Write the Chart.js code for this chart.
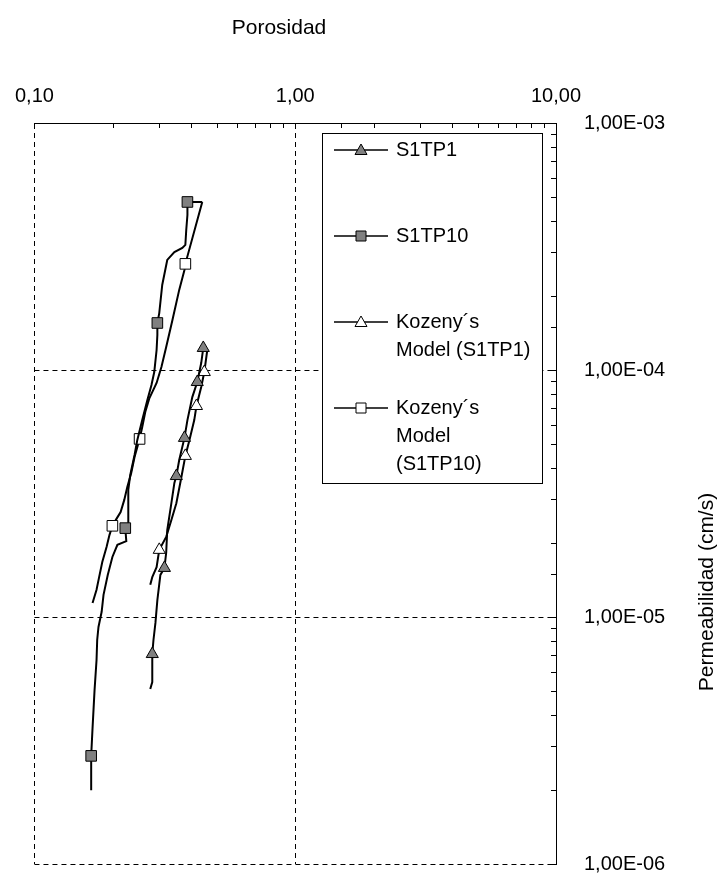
<!DOCTYPE html>
<html>
<head>
<meta charset="utf-8">
<title>Porosidad vs Permeabilidad</title>
<script src="https://cdn.jsdelivr.net/npm/chart.js@4.4.1/dist/chart.umd.min.js"></script>
<style>
  html, body { margin: 0; padding: 0; background: #fff; }
  canvas { display: block; }
</style>
</head>
<body>
<canvas id="chart-porosidad" width="719" height="879"></canvas>
<script>
// Datos (porosidad, permeabilidad cm/s)
const porS1TP1 = [0.278, 0.283, 0.283, 0.286, 0.291, 0.296, 0.304, 0.315, 0.320, 0.323, 0.335, 0.344, 0.350, 0.359, 0.376, 0.386, 0.403, 0.421, 0.436, 0.444];
const permS1TP1 = [5.11e-6, 5.45e-6, 7.08e-6, 8.07e-6, 9.46e-6, 1.17e-5, 1.48e-5, 1.58e-5, 1.82e-5, 2.25e-5, 2.89e-5, 3.49e-5, 3.72e-5, 4.32e-5, 5.31e-5, 6.27e-5, 7.77e-5, 8.94e-5, 1.067e-4, 1.228e-4];
const marksS1TP1 = [2, 7, 12, 14, 17, 19];

const porS1TP10 = [0.165, 0.165, 0.167, 0.170, 0.173, 0.174, 0.176, 0.181, 0.184, 0.191, 0.199, 0.208, 0.225, 0.223, 0.229, 0.229, 0.233, 0.242, 0.248, 0.259, 0.271, 0.281, 0.288, 0.294, 0.296, 0.296, 0.301, 0.309, 0.323, 0.344, 0.369, 0.379, 0.382, 0.386, 0.386, 0.440];
const permS1TP10 = [1.99e-6, 2.74e-6, 3.55e-6, 5.06e-6, 6.70e-6, 8.07e-6, 9.11e-6, 1.05e-5, 1.23e-5, 1.48e-5, 1.75e-5, 1.96e-5, 2.03e-5, 2.29e-5, 2.36e-5, 3.27e-5, 3.76e-5, 4.53e-5, 5.21e-5, 6.27e-5, 7.56e-5, 8.70e-5, 9.81e-5, 1.205e-4, 1.386e-4, 1.55e-4, 1.70e-4, 2.21e-4, 2.79e-4, 3.00e-4, 3.12e-4, 3.21e-4, 3.69e-4, 4.24e-4, 4.79e-4, 4.79e-4];
const marksS1TP10 = [1, 13, 25, 34];

const porKozS1TP1 = [0.460, 0.448, 0.436, 0.418, 0.410, 0.393, 0.379, 0.366, 0.350, 0.335, 0.320, 0.301, 0.294, 0.283, 0.278];
const permKozS1TP1 = [1.205e-4, 9.81e-5, 8.53e-5, 7.15e-5, 6.27e-5, 5.21e-5, 4.49e-5, 3.69e-5, 2.89e-5, 2.47e-5, 2.11e-5, 1.87e-5, 1.59e-5, 1.45e-5, 1.35e-5];
const marksKozS1TP1 = [1, 3, 6, 11];

const porKozS1TP10 = [0.440, 0.379, 0.376, 0.359, 0.338, 0.320, 0.307, 0.294, 0.276, 0.266, 0.259, 0.253, 0.242, 0.235, 0.227, 0.221, 0.214, 0.206, 0.199, 0.194, 0.189, 0.182, 0.177, 0.173, 0.167];
const permKozS1TP10 = [4.79e-4, 2.69e-4, 2.54e-4, 2.11e-4, 1.59e-4, 1.24e-4, 1.03e-4, 8.86e-5, 7.70e-5, 6.76e-5, 5.88e-5, 5.26e-5, 4.44e-5, 3.83e-5, 3.36e-5, 2.98e-5, 2.66e-5, 2.49e-5, 2.34e-5, 2.15e-5, 1.92e-5, 1.67e-5, 1.45e-5, 1.29e-5, 1.14e-5];
const marksKozS1TP10 = [1, 11, 18];

const legendLines = [['S1TP1'], ['S1TP10'], ['Kozeny´s', 'Model (S1TP1)'], ['Kozeny´s', 'Model', '(S1TP10)']];
const xTicks = [0.1, 1, 10];
const yTicks = [1e-6, 1e-5, 1e-4, 1e-3];
const xTitle = 'Porosidad';
const yTitle = 'Permeabilidad (cm/s)';

const FONT = '"Liberation Sans", Arial, sans-serif';
Chart.defaults.font.family = FONT;
Chart.defaults.font.size = 20;
Chart.defaults.color = '#000';

const isDecade = (v) => Math.abs(Math.log10(v) - Math.round(Math.log10(v))) < 1e-6;
const isTick = (list, v) => list.some(t => Math.abs(Math.log10(t) - Math.log10(v)) < 1e-6);
const fmtPor = (v) => v.toFixed(2).replace('.', ',');
const fmtSci = (v) => {
  const e = Math.round(Math.log10(v));
  const m = v / Math.pow(10, e);
  return m.toFixed(2).replace('.', ',') + 'E' + (e < 0 ? '-' : '+') + String(Math.abs(e)).padStart(2, '0');
};

const toPoints = (xs, ys) => xs.map((x, i) => ({ x: x, y: ys[i] }));

function serie(label, xs, ys, marks, style, fill) {
  const r = style === 'rect' ? 7.5 : 7;
  return {
    label: label,
    data: toPoints(xs, ys),
    showLine: true,
    borderColor: '#000',
    borderWidth: 2,
    tension: 0,
    pointStyle: style,
    pointBackgroundColor: fill,
    pointBorderColor: '#000',
    pointBorderWidth: 1,
    pointRadius: (c) => marks.includes(c.dataIndex) ? r : 0,
    pointHoverRadius: (c) => marks.includes(c.dataIndex) ? r : 0
  };
}

// ticks interiores, titulos y leyenda
const extrasPlugin = {
  id: 'extras',
  afterDraw(chart) {
    const ctx = chart.ctx;
    const area = chart.chartArea;
    const sx = chart.scales.x;
    const sy = chart.scales.y;
    ctx.save();
    ctx.strokeStyle = '#000';
    ctx.lineWidth = 1;
    ctx.beginPath();
    sx.ticks.forEach(t => {
      const px = Math.round(sx.getPixelForValue(t.value)) + 0.5;
      ctx.moveTo(px, area.top);
      ctx.lineTo(px, area.top + 5);
    });
    sy.ticks.forEach(t => {
      const py = Math.round(sy.getPixelForValue(t.value)) + 0.5;
      ctx.moveTo(area.right, py);
      ctx.lineTo(area.right - 5, py);
    });
    ctx.stroke();

    ctx.fillStyle = '#000';
    ctx.font = '21px ' + FONT;
    ctx.textAlign = 'center';
    ctx.textBaseline = 'middle';
    ctx.fillText(xTitle, 279, 28);
    ctx.save();
    ctx.translate(707, 592);
    ctx.rotate(-Math.PI / 2);
    ctx.fillText(yTitle, 0, 0);
    ctx.restore();

    // leyenda
    const lg = { left: 322, top: 133, right: 542, bottom: 483, x0: 334, x1: 388, tx: 396, y0: 150, step: 86, lh: 28 };
    ctx.font = '20px ' + FONT;
    ctx.fillStyle = '#fff';
    ctx.fillRect(lg.left, lg.top, lg.right - lg.left, lg.bottom - lg.top);
    ctx.strokeStyle = '#000';
    ctx.strokeRect(lg.left + 0.5, lg.top + 0.5, lg.right - lg.left, lg.bottom - lg.top);
    chart.data.datasets.forEach((ds, i) => {
      const yy = lg.y0 + i * lg.step;
      ctx.lineWidth = 1.5;
      ctx.beginPath();
      ctx.moveTo(lg.x0, yy);
      ctx.lineTo(lg.x1, yy);
      ctx.stroke();
      const cx = (lg.x0 + lg.x1) / 2;
      ctx.lineWidth = 1;
      ctx.fillStyle = ds.pointBackgroundColor;
      ctx.beginPath();
      if (ds.pointStyle === 'triangle') {
        ctx.moveTo(cx, yy - 6);
        ctx.lineTo(cx + 6, yy + 4.5);
        ctx.lineTo(cx - 6, yy + 4.5);
        ctx.closePath();
      } else {
        ctx.rect(cx - 5, yy - 5, 10, 10);
      }
      ctx.fill();
      ctx.stroke();
      ctx.fillStyle = '#000';
      ctx.textAlign = 'left';
      legendLines[i].forEach((line, k) => ctx.fillText(line, lg.tx, yy + k * lg.lh));
    });
    ctx.restore();
  }
};

new Chart(document.getElementById('chart-porosidad'), {
  type: 'scatter',
  data: {
    datasets: [
      serie(legendLines[0].join(' '), porS1TP1, permS1TP1, marksS1TP1, 'triangle', '#808080'),
      serie(legendLines[1].join(' '), porS1TP10, permS1TP10, marksS1TP10, 'rect', '#808080'),
      serie(legendLines[2].join(' '), porKozS1TP1, permKozS1TP1, marksKozS1TP1, 'triangle', '#fff'),
      serie(legendLines[3].join(' '), porKozS1TP10, permKozS1TP10, marksKozS1TP10, 'rect', '#fff')
    ]
  },
  options: {
    responsive: false,
    animation: false,
    layout: { padding: { left: 34, right: 0, top: 0, bottom: 15 } },
    plugins: { legend: { display: false }, tooltip: { enabled: false } },
    scales: {
      x: {
        type: 'logarithmic',
        position: 'top',
        min: 0.1,
        max: 10,
        afterFit: (s) => { s.height = 123; },
        grid: {
          color: (c) => (c.tick && isDecade(c.tick.value)) ? '#000' : 'rgba(0,0,0,0)',
          lineWidth: 1,
          drawTicks: false
        },
        border: { display: true, color: '#000', width: 1, dash: [5, 4] },
        ticks: {
          autoSkip: false,
          maxRotation: 0,
          padding: 15,
          callback: (v) => isTick(xTicks, v) ? fmtPor(v) : ''
        }
      },
      y: {
        type: 'logarithmic',
        position: 'right',
        min: 1e-6,
        max: 1e-3,
        afterFit: (s) => { s.width = 163; s.paddingTop = 0; s.paddingBottom = 0; },
        grid: {
          color: (c) => (c.tick && isDecade(c.tick.value)) ? '#000' : 'rgba(0,0,0,0)',
          lineWidth: 1,
          drawTicks: false
        },
        border: { display: true, color: '#000', width: 1, dash: [5, 4] },
        ticks: {
          autoSkip: false,
          padding: 28,
          callback: (v) => isTick(yTicks, v) ? fmtSci(v) : ''
        }
      }
    }
  },
  plugins: [extrasPlugin]
});
</script>
</body>
</html>
